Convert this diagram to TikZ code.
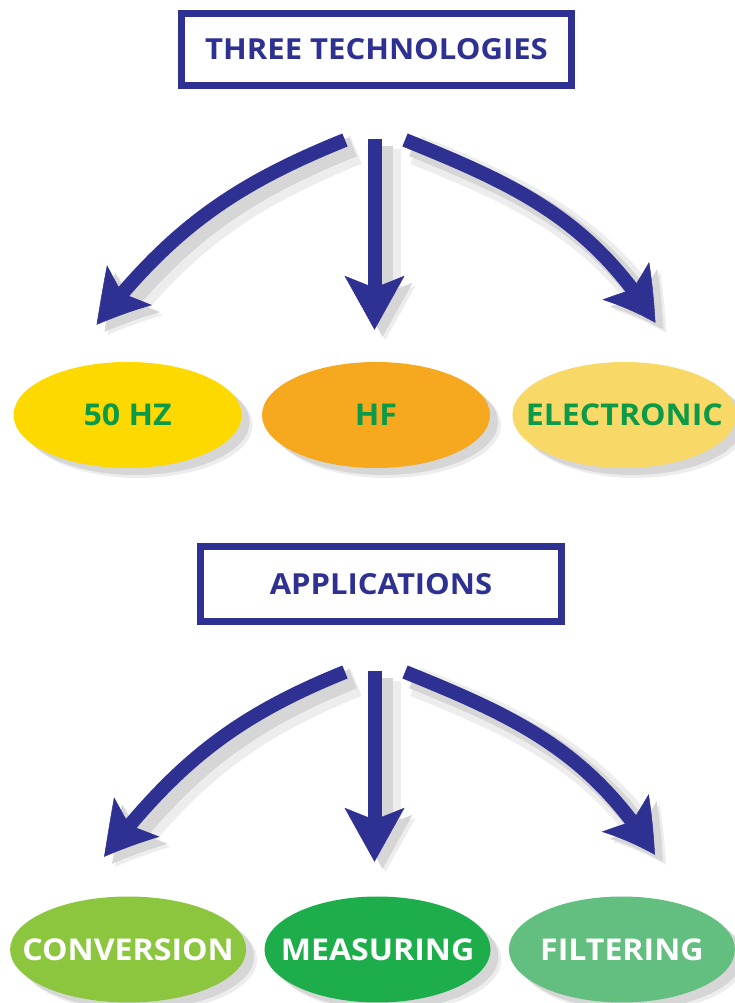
\documentclass[tikz,border=0pt]{standalone}
\usepackage{fontspec}
\usepackage{tikz}
\usetikzlibrary{shapes,positioning,arrows.meta,bending,shadows}
\newfontfamily\boldsans{Open Sans}[FakeStretch=1.07]
\newcommand{\ovaltext}[1]{\makebox[0pt]{#1}}
\definecolor{navy}{HTML}{2E3192}
\definecolor{leafgreen}{HTML}{0A9A48}
\definecolor{hzyellow}{HTML}{FDD900}
\definecolor{hforange}{HTML}{F6A81E}
\definecolor{elyellow}{HTML}{F8D867}
\definecolor{convgreen}{HTML}{8CC63F}
\definecolor{measgreen}{HTML}{1DAE4B}
\definecolor{filtgreen}{HTML}{63BF80}

\begin{document}
\begin{tikzpicture}[x=1pt,y=1pt,
            title/.style={rectangle, draw=navy, line width=7pt, fill=white,
                text=navy, font=\boldsans\bfseries\fontsize{29}{31}\selectfont},
            oval/.style={ellipse, minimum width=228pt, minimum height=106pt,
                inner sep=0pt, font=\boldsans\bfseries\fontsize{30}{32}\selectfont,
                drop shadow={shadow xshift=11pt, shadow yshift=-10pt, fill=black!7, opacity=1},
                drop shadow={shadow xshift=8pt, shadow yshift=-7pt, fill=black!16, opacity=1}},
            flow/.style={draw=navy, line width=14pt,
                -{Stealth[length=54pt,width=60pt,inset=12pt,line width=0.5pt,bend]},
                preaction={draw=black!7, line width=30pt, transform canvas={shift={(11pt,-10pt)}}},
                preaction={draw=black!16, line width=20pt, transform canvas={shift={(8pt,-7pt)}}}}]

            \useasboundingbox (0,0) rectangle (735,1003);

            \node [title, minimum width=390pt, minimum height=72pt] (tech) at (376.5,953.5) {THREE TECHNOLOGIES};
            \node [oval, fill=hforange, text=leafgreen] (hf) at (376,588) {\ovaltext{HF}};
            \node [oval, fill=hzyellow, text=leafgreen, left=20pt of hf] (hz) {\ovaltext{50 HZ}};
            \node [oval, fill=elyellow, text=leafgreen, minimum width=224pt, right=22pt of hf] (el) {\ovaltext{ELECTRONIC}};

            \node [title, minimum width=361pt, minimum height=75pt] (appl) at (381,419) {APPLICATIONS};
            \node [oval, fill=measgreen, text=white, minimum width=226pt] (meas) at (377.5,53.5) {\ovaltext{MEASURING}};
            \node [oval, fill=convgreen, text=white, minimum width=236pt, left=18pt of meas] (conv) {\ovaltext{CONVERSION}};
            \node [oval, fill=filtgreen, text=white, minimum width=226pt, right=18pt of meas] (filt) {\ovaltext{FILTERING}};

            \coordinate (tech l) at ([shift={(-31.5pt,-51pt)}]tech.south);
            \coordinate (tech c) at ([shift={(-2pt,-50pt)}]tech.south);
            \coordinate (tech r) at ([shift={(28.5pt,-51pt)}]tech.south);
            \coordinate (hz in) at ([shift={(-31pt,37pt)}]hz.north);
            \coordinate (hf in) at ([shift={(-1.5pt,32pt)}]hf.north);
            \coordinate (el in) at ([shift={(31pt,39pt)}]el.north);

            \coordinate (appl l) at ([shift={(-36pt,-47pt)}]appl.south);
            \coordinate (appl c) at ([shift={(-6.5pt,-46pt)}]appl.south);
            \coordinate (appl r) at ([shift={(24pt,-47pt)}]appl.south);
            \coordinate (conv in) at ([shift={(-24pt,39.5pt)}]conv.north);
            \coordinate (meas in) at ([shift={(-3pt,34.5pt)}]meas.north);
            \coordinate (filt in) at ([shift={(33pt,41.5pt)}]filt.north);

            \draw [flow] (tech l) to[out=202,in=52] (hz in);
            \draw [flow] (tech c) -- (hf in);
            \draw [flow] (tech r) to[out=338,in=122] (el in);

            \draw [flow] (appl l) to[out=202,in=52] (conv in);
            \draw [flow] (appl c) -- (meas in);
            \draw [flow] (appl r) to[out=338,in=122] (filt in);

        \end{tikzpicture}
\end{document}
